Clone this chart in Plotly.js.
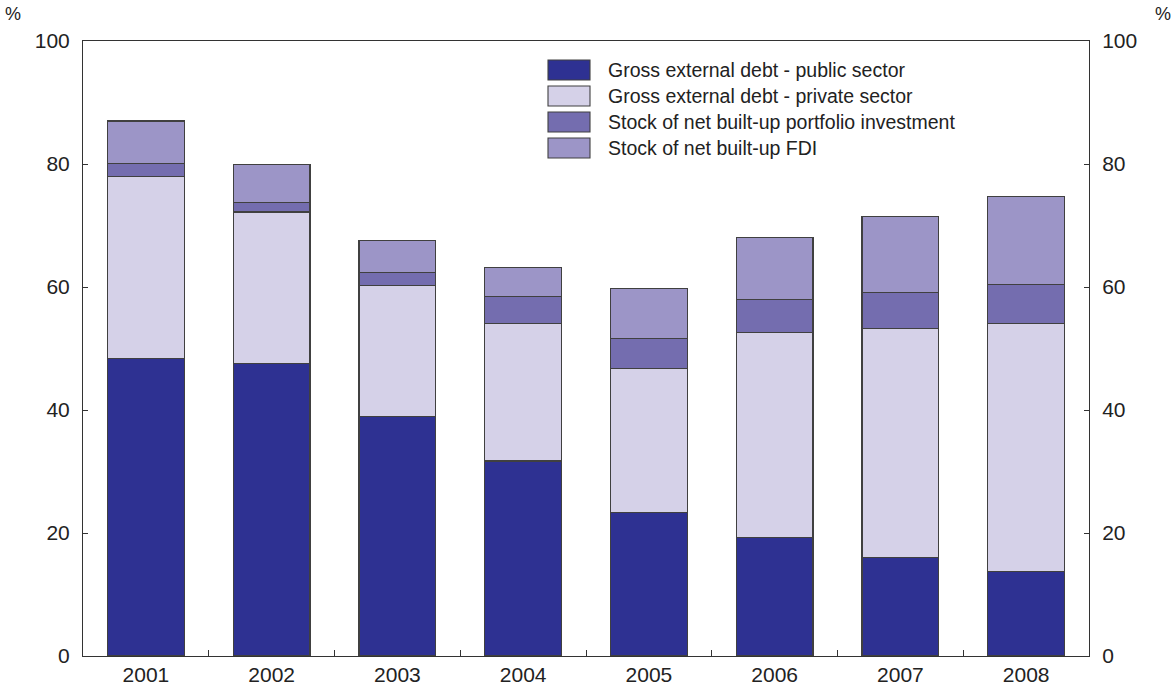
<!DOCTYPE html>
<html>
<head>
<meta charset="utf-8">
<script src="https://cdn.plot.ly/plotly-3.0.1.min.js"></script>
<style>body{margin:0;background:#fff}#chart{width:1173px;height:689px}</style>
</head>
<body>
<div id="chart"></div>
<script>
const years = ["2001","2002","2003","2004","2005","2006","2007","2008"];
const publicDebt   = [48.4, 47.5, 38.9, 31.7, 23.3, 19.2, 16.0, 13.7];
const privateDebt  = [29.5, 24.7, 21.3, 22.4, 23.5, 33.4, 37.3, 40.4];
const portfolioInv = [2.2, 1.6, 2.1, 4.3, 4.8, 5.3, 5.8, 6.3];
const fdiStock     = [6.9, 6.1, 5.2, 4.7, 8.2, 10.1, 12.4, 14.3];
const seriesNames = [
  "Gross external debt - public sector",
  "Gross external debt - private sector",
  "Stock of net built-up portfolio investment",
  "Stock of net built-up FDI"
];
const yTicks = [0, 20, 40, 60, 80, 100];

const colors = ["#2E3192", "#D5D1E8", "#746DAF", "#9C95C7"];
const values = [publicDebt, privateDebt, portfolioInv, fdiStock];
const font = {family: "Liberation Sans, Arial, sans-serif", color: "#222"};
const fnt = s => Object.assign({size: s}, font);

// plot area in pixels
const W = 1173, H = 689, ML = 83, MR = 84, MT = 41, MB = 33;
const PW = W - ML - MR, PH = H - MT - MB;
const px = x => (x - ML) / PW;
const py = y => (H - MB - y) / PH;

const traces = values.map((v, i) => ({
  type: "bar", x: years, y: v, name: seriesNames[i],
  marker: {color: colors[i], line: {color: "#404040", width: 1.1}},
  hoverinfo: "x+y+name", showlegend: false
}));
traces.push({type: "scatter", x: years, y: publicDebt, yaxis: "y2",
  mode: "none", showlegend: false, hoverinfo: "skip"});

// custom legend (swatches as shapes, labels as annotations)
const shapes = [], annotations = [];
seriesNames.forEach((name, i) => {
  const top = 60 + i * 26;
  shapes.push({type: "rect", xref: "paper", yref: "paper",
    x0: px(548), x1: px(590), y0: py(top + 20), y1: py(top),
    fillcolor: colors[i], line: {color: "#404040", width: 1.1}});
  annotations.push({text: name, xref: "paper", yref: "paper",
    x: px(606), y: py(top + 10), xanchor: "left", yanchor: "middle",
    showarrow: false, font: fnt(19.5)});
});
annotations.push(
  {text: "%", xref: "paper", yref: "paper", x: px(3), y: py(14),
   xanchor: "left", yanchor: "middle", showarrow: false, font: fnt(18)},
  {text: "%", xref: "paper", yref: "paper", x: px(1153), y: py(14),
   xanchor: "left", yanchor: "middle", showarrow: false, font: fnt(18)}
);

const axisY = {
  range: [0, 100], tickvals: yTicks, showgrid: false, zeroline: false,
  showline: true, linecolor: "#333", linewidth: 1, ticks: "inside",
  ticklen: 5, tickcolor: "#333", ticklabelstandoff: 8, tickfont: fnt(21)
};

const layout = {
  barmode: "stack",
  bargap: 0.39,
  width: W, height: H,
  margin: {l: ML, r: MR, t: MT, b: MB},
  paper_bgcolor: "#fff", plot_bgcolor: "#fff",
  font: fnt(21),
  showlegend: false,
  xaxis: {
    type: "category", showline: true, linecolor: "#333", linewidth: 1,
    mirror: true, ticks: "inside", tickson: "boundaries", ticklen: 6,
    tickcolor: "#333", showgrid: false, tickfont: fnt(21)
  },
  yaxis: axisY,
  yaxis2: Object.assign({}, axisY, {overlaying: "y", side: "right"}),
  shapes: shapes,
  annotations: annotations
};

Plotly.newPlot("chart", traces, layout, {displayModeBar: false, staticPlot: true});
</script>
</body>
</html>
